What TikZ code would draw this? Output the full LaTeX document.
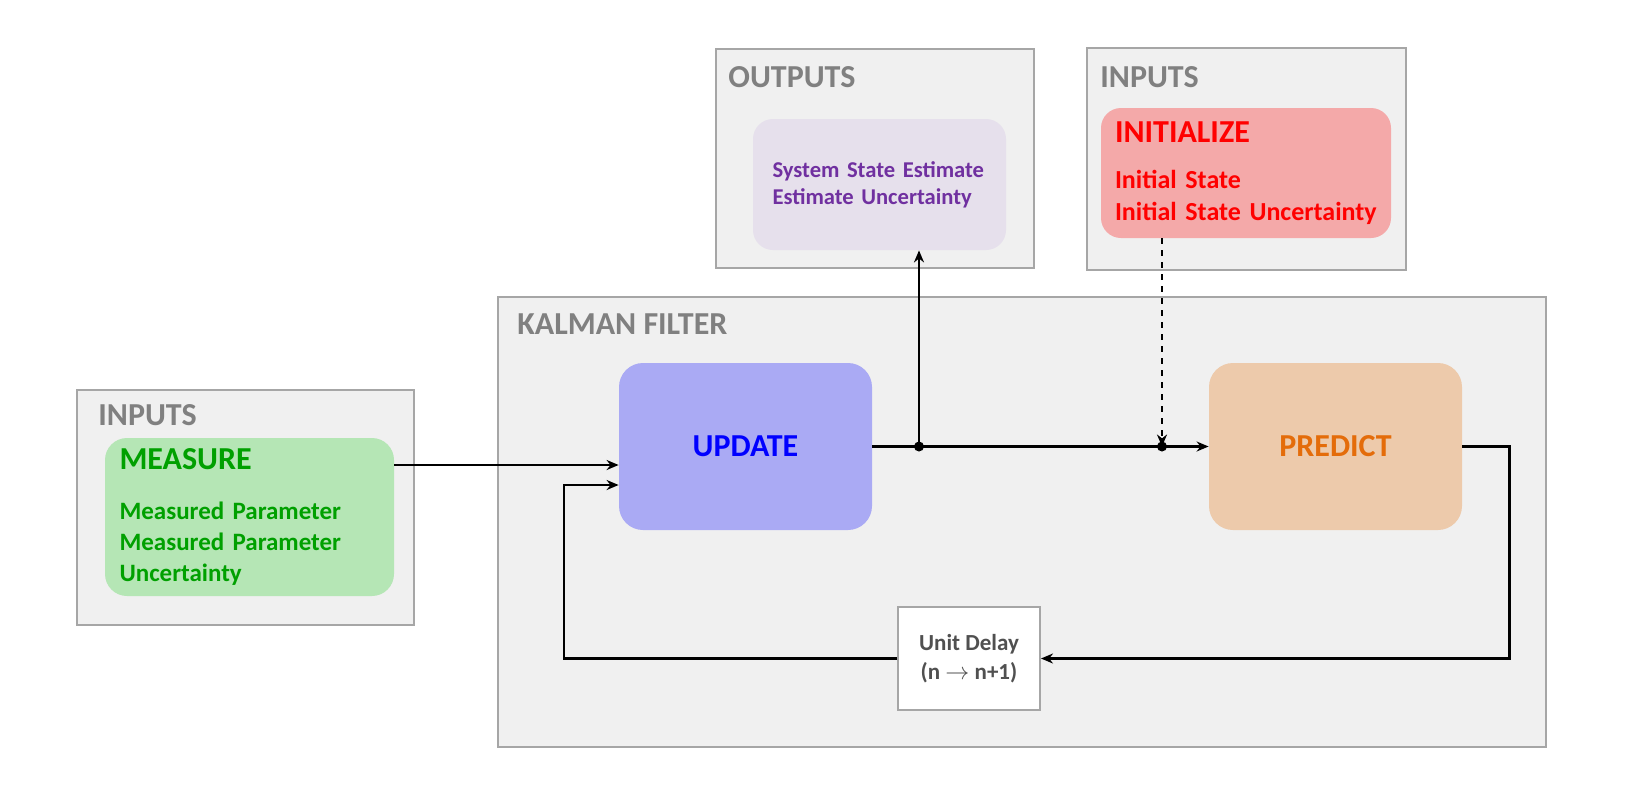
\documentclass[tikz,border=0pt]{standalone}
\usepackage{fontspec}
\setmainfont{Carlito}
\usepackage{xcolor}
\usetikzlibrary{arrows.meta}

\definecolor{panelfill}{HTML}{F0F0F0}
\definecolor{panelline}{HTML}{A6A6A6}
\definecolor{titlegray}{HTML}{808080}
\definecolor{measurefill}{HTML}{B5E6B5}
\definecolor{measuretext}{HTML}{00A000}
\definecolor{estfill}{HTML}{E6E0EC}
\definecolor{esttext}{HTML}{7030A0}
\definecolor{initfill}{HTML}{F4A9A9}
\definecolor{inittext}{HTML}{FF0000}
\definecolor{updatefill}{HTML}{AAAAF4}
\definecolor{updatetext}{HTML}{0000FF}
\definecolor{predictfill}{HTML}{EDCAAB}
\definecolor{predicttext}{HTML}{E46C0A}
\definecolor{delaytext}{HTML}{505050}

\begin{document}
\begin{tikzpicture}[x=0.5pt,y=-0.5pt,
    panel/.style={draw=panelline,line width=1pt,fill=panelfill,inner sep=0pt},
    paneltitle/.style={anchor=north west,inner sep=0pt,text=titlegray,font=\fontsize{16}{19}\selectfont\bfseries},
    block/.style={rounded corners=12pt,inner sep=0pt,font=\fontsize{16}{19}\selectfont\bfseries},
    flow/.style={line width=1.1pt,-{Stealth[length=6pt,width=5pt]}},
    tap/.style={circle,fill=black,inner sep=0pt,minimum size=5pt}]
    \useasboundingbox[fill=white] (0,0) rectangle (1651,804);

    % panels
    \node[panel,minimum width=168.5pt,minimum height=117.5pt] (inL) at (245.5,507.5) {};
    \node[panel,minimum width=159pt,minimum height=109.5pt] (outP) at (875,158.5) {};
    \node[panel,minimum width=159.5pt,minimum height=111pt] (inR) at (1246.5,159) {};
    \node[panel,minimum width=524pt,minimum height=225pt] (kf) at (1022,522) {};
    \node[paneltitle] at ([shift={(22,15)}]inL.north west) {INPUTS};
    \node[paneltitle] at ([shift={(13,18)}]outP.north west) {OUTPUTS};
    \node[paneltitle] at ([shift={(14,19)}]inR.north west) {INPUTS};
    \node[paneltitle] at ([shift={(20,17)}]kf.north west) {KALMAN FILTER};

    % blocks
    \node[block,fill=measurefill,text=measuretext,rounded corners=11pt,minimum width=144.5pt,minimum height=79pt,
        text width=130pt,align=left,font=\fontsize{12.5}{15.3}\selectfont\bfseries] (measure) at (249.5,517)
        {{\fontsize{16}{19}\selectfont MEASURE}\\[9.7pt]Measured Parameter\\Measured Parameter\\Uncertainty};
    \node[block,fill=estfill,text=esttext,rounded corners=10pt,minimum width=126.5pt,minimum height=65.5pt,
        text width=107pt,align=left,font=\fontsize{11.3}{13.5}\selectfont\bfseries] (est) at (879.5,184.5)
        {System State Estimate\\Estimate Uncertainty};
    \node[block,fill=initfill,text=inittext,rounded corners=10pt,minimum width=145pt,minimum height=65pt,
        text width=131pt,align=left,font=\fontsize{13}{15.8}\selectfont\bfseries] (init) at (1246,173)
        {{\fontsize{16}{19}\selectfont INITIALIZE}\\[7.2pt]Initial State\\Initial State Uncertainty};
    \node[block,fill=updatefill,text=updatetext,minimum width=126.5pt,minimum height=83.5pt] (update) at (745.5,446.5) {UPDATE};
    \node[block,fill=predictfill,text=predicttext,minimum width=126.5pt,minimum height=83.5pt] (predict) at (1335.5,446.5) {PREDICT};
    \node[draw=panelline,line width=1pt,fill=white,text=delaytext,inner sep=0pt,minimum width=71pt,minimum height=51.5pt,
        align=center,font=\fontsize{11.5}{14.5}\selectfont\bfseries] (delay) at (969,658.5) {Unit Delay\\(n $\rightarrow$ n+1)};

    % connectors
    \coordinate (tapout) at (919,446.5);
    \coordinate (tapin) at (1162,446.5);
    \draw[flow] (measure.east |- 0,465) -- (update.west |- 0,465);
    \draw[flow] (update.east) -- (predict.west);
    \draw[flow] (tapout) -- (est.south -| tapout);
    \draw[flow,dashed] (init.south -| tapin) -- (tapin);
    \draw[flow] (predict.east) -- ++(47,0) |- (delay.east);
    \draw[flow] (delay.west) -| (564,485) -- (update.west |- 0,485);
    \node[tap] at (tapout) {};
    \node[tap] at (tapin) {};
\end{tikzpicture}
\end{document}
